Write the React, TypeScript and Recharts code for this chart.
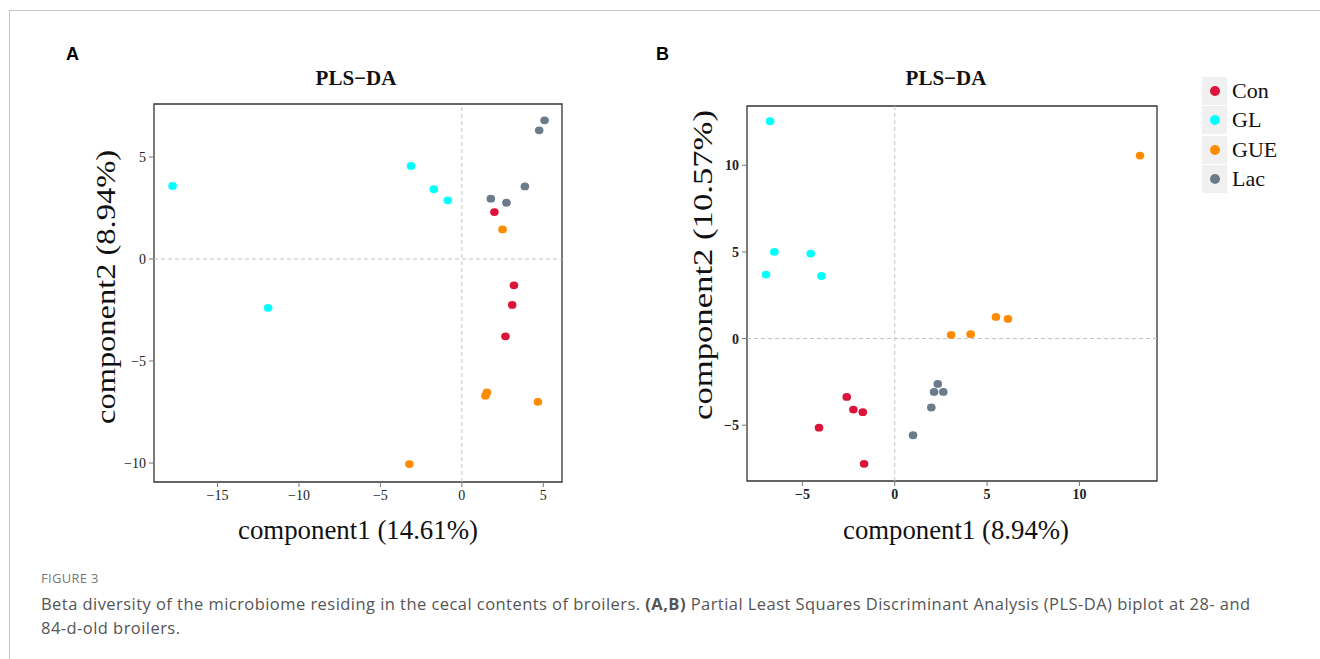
import React from "react";
import {
  ScatterChart,
  Scatter,
  XAxis,
  YAxis,
  ReferenceLine,
  ReferenceArea,
} from "recharts";

// group colours
const groups = ["Con", "GL", "GUE", "Lac"];
const colors: Record<string, string> = {
  Con: "#DC143C",
  GL: "#00FFFF",
  GUE: "#FF8C00",
  Lac: "#6C7B8B",
};

// panel A (28 d)
const aCon = [
  { x: 2.0, y: 2.3 },
  { x: 3.2, y: -1.29 },
  { x: 3.09, y: -2.25 },
  { x: 2.68, y: -3.79 },
];
const aGL = [
  { x: -17.76, y: 3.58 },
  { x: -3.12, y: 4.56 },
  { x: -1.72, y: 3.42 },
  { x: -0.86, y: 2.88 },
  { x: -11.89, y: -2.39 },
];
const aGUE = [
  { x: 2.5, y: 1.45 },
  { x: 1.54, y: -6.54 },
  { x: 1.45, y: -6.7 },
  { x: 4.67, y: -7.0 },
  { x: -3.22, y: -10.05 },
];
const aLac = [
  { x: 5.08, y: 6.8 },
  { x: 4.75, y: 6.31 },
  { x: 3.87, y: 3.56 },
  { x: 1.78, y: 2.96 },
  { x: 2.74, y: 2.76 },
];

// panel B (84 d)
const bCon = [
  { x: -2.6, y: -3.37 },
  { x: -2.24, y: -4.1 },
  { x: -1.73, y: -4.25 },
  { x: -4.1, y: -5.14 },
  { x: -1.66, y: -7.23 },
];
const bGL = [
  { x: -6.75, y: 12.54 },
  { x: -6.52, y: 5.0 },
  { x: -6.97, y: 3.69 },
  { x: -4.55, y: 4.9 },
  { x: -3.97, y: 3.61 },
];
const bGUE = [
  { x: 13.28, y: 10.56 },
  { x: 3.05, y: 0.21 },
  { x: 4.11, y: 0.25 },
  { x: 5.48, y: 1.25 },
  { x: 6.13, y: 1.13 },
];
const bLac = [
  { x: 2.33, y: -2.62 },
  { x: 2.13, y: -3.08 },
  { x: 2.63, y: -3.08 },
  { x: 1.98, y: -3.98 },
  { x: 0.99, y: -5.58 },
];

const aXDomain: [number, number] = [-18.9, 6.15];
const aYDomain: [number, number] = [-10.93, 7.6];
const aXTicks = [-15, -10, -5, 0, 5];
const aYTicks = [-10, -5, 0, 5];

const bXDomain: [number, number] = [-8.0, 14.2];
const bYDomain: [number, number] = [-8.22, 13.42];
const bXTicks = [-5, 0, 5, 10];
const bYTicks = [-5, 0, 5, 10];

const serif = "'Liberation Serif', 'Times New Roman', serif";

const fmt = (v: number) => (v < 0 ? `\u2212${Math.abs(v)}` : `${v}`);

const dot = (fill: string) => (p: any) => (
  <ellipse cx={p.cx} cy={p.cy} rx={4.3} ry={3.9} fill={fill} />
);

// axis titles are stretched in the original, so fit them to a length
const xTitle = (text: string, cx: number, y: number, len: number) => () => (
  <text
    x={cx}
    y={y}
    textAnchor="middle"
    fontFamily={serif}
    fontSize={27}
    fill="#111"
    textLength={len}
    lengthAdjust="spacingAndGlyphs"
  >
    {text}
  </text>
);

const yTitle = (text: string, cx: number, cy: number, len: number) => () => (
  <text
    x={cx}
    y={cy}
    dy="0.35em"
    transform={`rotate(-90 ${cx} ${cy})`}
    textAnchor="middle"
    fontFamily={serif}
    fontSize={28}
    fill="#111"
    textLength={len}
    lengthAdjust="spacingAndGlyphs"
  >
    {text}
  </text>
);

const Y_W = 60;
const X_H = 30;

function Panel(props: {
  left: number;
  width: number;
  plot: { left: number; top: number; right: number; bottom: number };
  series: Record<string, { x: number; y: number }[]>;
  xDomain: [number, number];
  yDomain: [number, number];
  xTicks: number[];
  yTicks: number[];
  xLabel: () => React.ReactElement;
  yLabel: () => React.ReactElement;
  bold?: boolean;
}) {
  const H = 560;
  const margin = {
    top: props.plot.top,
    left: props.plot.left - props.left - Y_W,
    right: props.left + props.width - props.plot.right,
    bottom: H - props.plot.bottom - X_H,
  };
  const tick = {
    fontFamily: serif,
    fontSize: 14,
    fill: "#222",
    fontWeight: props.bold ? 700 : 400,
  };
  return (
    <div style={{ position: "absolute", left: props.left, top: 0 }}>
      <ScatterChart width={props.width} height={H} margin={margin}>
        <XAxis
          type="number"
          dataKey="x"
          domain={props.xDomain}
          ticks={props.xTicks}
          allowDataOverflow
          height={X_H}
          tickFormatter={fmt}
          tick={tick}
          tickSize={5}
          tickMargin={3}
          axisLine={false}
          tickLine={{ stroke: "#777" }}
          label={{ content: props.xLabel }}
        />
        <YAxis
          type="number"
          dataKey="y"
          domain={props.yDomain}
          ticks={props.yTicks}
          allowDataOverflow
          width={Y_W}
          tickFormatter={fmt}
          tick={tick}
          tickSize={5}
          tickMargin={3}
          axisLine={false}
          tickLine={{ stroke: "#777" }}
          label={{ content: props.yLabel }}
        />
        <ReferenceLine x={0} stroke="#c4c4c4" strokeDasharray="4 3" />
        <ReferenceLine y={0} stroke="#c4c4c4" strokeDasharray="4 3" />
        <ReferenceArea
          x1={props.xDomain[0]}
          x2={props.xDomain[1]}
          y1={props.yDomain[0]}
          y2={props.yDomain[1]}
          fill="none"
          fillOpacity={0}
          stroke="#333"
          strokeWidth={1.3}
        />
        {groups.map((g) => (
          <Scatter
            key={g}
            name={g}
            data={props.series[g]}
            fill={colors[g]}
            shape={dot(colors[g])}
            isAnimationActive={false}
          />
        ))}
      </ScatterChart>
    </div>
  );
}

const titleStyle: React.CSSProperties = {
  position: "absolute",
  fontFamily: serif,
  fontWeight: 700,
  fontSize: 21,
  color: "#111",
  transform: "translateX(-50%)",
  whiteSpace: "nowrap",
};

const letterStyle: React.CSSProperties = {
  position: "absolute",
  fontFamily: "'Liberation Sans', Arial, sans-serif",
  fontWeight: 700,
  fontSize: 18,
  color: "#000",
};

export default function App() {
  return (
    <div
      style={{
        position: "absolute",
        left: 0,
        top: 0,
        width: 1320,
        height: 659,
        overflow: "hidden",
        background: "#fff",
      }}
    >
      <div
        style={{
          position: "absolute",
          left: 9,
          top: 10,
          width: 1400,
          height: 700,
          borderTop: "1.5px solid #c6c6c6",
          borderLeft: "1.5px solid #c6c6c6",
        }}
      />
      <div style={{ ...letterStyle, left: 66, top: 44 }}>A</div>
      <div style={{ ...letterStyle, left: 656, top: 44 }}>B</div>

      <Panel
        left={0}
        width={620}
        plot={{ left: 154, top: 104, right: 562, bottom: 482 }}
        series={{ Con: aCon, GL: aGL, GUE: aGUE, Lac: aLac }}
        xDomain={aXDomain}
        yDomain={aYDomain}
        xTicks={aXTicks}
        yTicks={aYTicks}
        xLabel={xTitle("component1 (14.61%)", 358, 539, 240)}
        yLabel={yTitle("component2 (8.94%)", 105, 287, 274)}
      />
      <Panel
        left={640}
        width={560}
        plot={{ left: 747, top: 106, right: 1157, bottom: 481 }}
        series={{ Con: bCon, GL: bGL, GUE: bGUE, Lac: bLac }}
        xDomain={bXDomain}
        yDomain={bYDomain}
        xTicks={bXTicks}
        yTicks={bYTicks}
        xLabel={xTitle("component1 (8.94%)", 956 - 640, 539, 226)}
        yLabel={yTitle("component2 (10.57%)", 702 - 640, 265, 310)}
        bold
      />

      <div style={{ ...titleStyle, left: 356, top: 66 }}>PLS−DA</div>
      <div style={{ ...titleStyle, left: 946, top: 66 }}>PLS−DA</div>

      {/* legend */}
      <div style={{ position: "absolute", left: 1202, top: 76 }}>
        {groups.map((g) => (
          <div
            key={g}
            style={{ display: "flex", alignItems: "center", height: 29.5 }}
          >
            <div
              style={{
                width: 25,
                height: 28,
                background: "#f0f0f0",
                display: "flex",
                alignItems: "center",
                justifyContent: "center",
              }}
            >
              <span
                style={{
                  width: 10,
                  height: 10,
                  borderRadius: 5,
                  background: colors[g],
                  display: "block",
                }}
              />
            </div>
            <span
              style={{
                fontFamily: serif,
                fontSize: 22,
                color: "#111",
                marginLeft: 5,
              }}
            >
              {g}
            </span>
          </div>
        ))}
      </div>

      {/* caption */}
      <div
        style={{
          position: "absolute",
          left: 41,
          top: 569,
          fontFamily: "'Open Sans', sans-serif",
          fontSize: 13,
          letterSpacing: 0.3,
          color: "#777",
        }}
      >
        FIGURE 3
      </div>
      <div
        style={{
          position: "absolute",
          left: 41,
          top: 592,
          fontFamily: "'Open Sans', sans-serif",
          fontSize: 16.5,
          letterSpacing: 0.45,
          lineHeight: "24px",
          color: "#555",
          whiteSpace: "nowrap",
        }}
      >
        Beta diversity of the microbiome residing in the cecal contents of broilers.{" "}
        <b>(A,B)</b> Partial Least Squares Discriminant Analysis (PLS-DA) biplot at 28- and
        <br />
        84-d-old broilers.
      </div>
    </div>
  );
}
